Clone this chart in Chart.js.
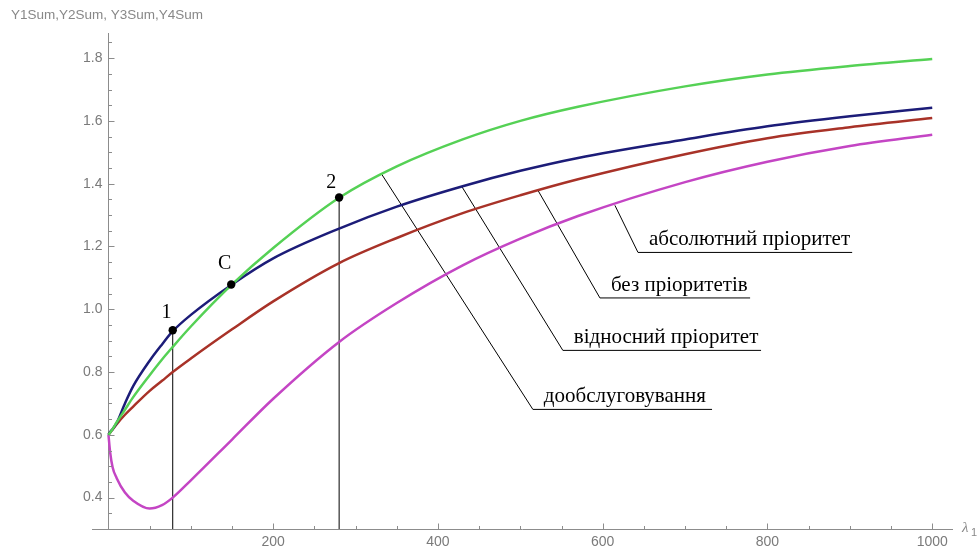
<!DOCTYPE html>
<html lang="uk">
<head>
<meta charset="UTF-8">
<title>Y1Sum, Y2Sum, Y3Sum, Y4Sum</title>
<script src="https://cdn.jsdelivr.net/npm/chart.js"></script>
<style>
  html, body { margin: 0; padding: 0; background: #fff; }
</style>
</head>
<body>
<canvas id="chart" width="978" height="547"></canvas>
<script>
// values
const lambda = [0, 2, 5, 10, 20, 30, 50, 65, 78, 100, 150, 200, 280, 350, 430, 500, 570, 700, 800, 900, 1000];
const absPriority  = [0.60, 0.545, 0.497, 0.462, 0.416, 0.39, 0.365, 0.376, 0.40, 0.455, 0.585, 0.715, 0.896, 1.02, 1.14, 1.225, 1.297, 1.405, 1.47, 1.52, 1.556];
const noPriority   = [0.60, 0.607, 0.617, 0.634, 0.664, 0.69, 0.74, 0.772, 0.80, 0.843, 0.936, 1.025, 1.147, 1.227, 1.306, 1.363, 1.414, 1.494, 1.545, 1.58, 1.609];
const relPriority  = [0.60, 0.609, 0.618, 0.638, 0.70, 0.755, 0.836, 0.888, 0.93, 0.982, 1.079, 1.162, 1.257, 1.327, 1.392, 1.441, 1.482, 1.541, 1.583, 1.615, 1.642];
const afterService = [0.60, 0.607, 0.618, 0.64, 0.68, 0.72, 0.79, 0.84, 0.88, 0.945, 1.079, 1.195, 1.355, 1.455, 1.541, 1.60, 1.645, 1.71, 1.748, 1.775, 1.797];

const seriesNames = ['абсолютний пріоритет', 'без пріоритетів', 'відносний пріоритет', 'дообслуговування'];

const markX = [78, 149, 280];
const markY = [0.933, 1.079, 1.356];
const markNames = ['1', 'C', '2'];
const markLabelX = [70.5, 141, 270.5];
const markLabelY = [0.988, 1.146, 1.404];

// leader lines: point on curve, bend, end of underline
const leaderX = [[614.8, 642.8, 902.8], [521.3, 596.6, 778.9], [428.9, 551.6, 792.2], [331.7, 515.2, 732.7]];
const leaderY = [[1.331, 1.181, 1.181], [1.379, 1.036, 1.036], [1.391, 0.869, 0.869], [1.43, 0.681, 0.681]];

const xTicks = [200, 400, 600, 800, 1000];
const yTicks = [0.4, 0.6, 0.8, 1.0, 1.2, 1.4, 1.6, 1.8];

const axisColor = '#8c8c8c';
const tickText = '#7a7a7a';
const sans = '"Liberation Sans", Arial, sans-serif';
const serif = '"Liberation Serif", "Times New Roman", serif';

function pts(xs, ys) {
  return xs.map((v, i) => ({x: v, y: ys[i]}));
}

function curve(values, color) {
  return {
    data: pts(lambda, values),
    showLine: true,
    borderColor: color,
    borderWidth: 2.5,
    pointRadius: 0,
    tension: 0.4,
    cubicInterpolationMode: 'monotone'
  };
}

function thin(data) {
  return {data, showLine: true, borderColor: '#000', borderWidth: 1, pointRadius: 0, tension: 0};
}

const datasets = [
  {data: pts(markX, markY), pointRadius: 4.2, pointBackgroundColor: '#000', pointBorderWidth: 0, showLine: false},
  curve(afterService, '#55d155'),
  curve(relPriority, '#1c1c78'),
  curve(noPriority, '#a83228'),
  curve(absPriority, '#c445c4'),
  thin([{x: markX[0], y: 0.3}, {x: markX[0], y: markY[0]}]),
  thin([{x: markX[2], y: 0.3}, {x: markX[2], y: markY[2]}])
];
leaderX.forEach((xs, i) => datasets.push(thin(pts(xs, leaderY[i]))));

// inward tick marks and y labels next to the axis at x = 0
const axisTicks = {
  id: 'axisTicks',
  afterDraw(chart) {
    const {ctx, scales: {x, y}} = chart;
    const x0 = Math.round(x.getPixelForValue(0)) + 0.5;
    const yb = Math.round(y.getPixelForValue(0.3)) + 0.5;
    ctx.save();
    ctx.strokeStyle = axisColor;
    ctx.lineWidth = 1;
    ctx.beginPath();
    for (let v = 50; v <= 1000; v += 50) {
      const px = Math.round(x.getPixelForValue(v)) + 0.5;
      const len = v % 200 === 0 ? 6 : 3.5;
      ctx.moveTo(px, yb);
      ctx.lineTo(px, yb - len);
    }
    for (let i = 7; i <= 37; i++) {
      const py = Math.round(y.getPixelForValue(i * 0.05)) + 0.5;
      const len = i % 4 === 0 ? 6 : 3.5;
      ctx.moveTo(x0, py);
      ctx.lineTo(x0 + len, py);
    }
    ctx.stroke();
    ctx.fillStyle = tickText;
    ctx.font = '14px ' + sans;
    ctx.textAlign = 'right';
    ctx.textBaseline = 'middle';
    yTicks.forEach(v => ctx.fillText(v.toFixed(1), x0 - 6, y.getPixelForValue(v)));
    ctx.restore();
  }
};

const labels = {
  id: 'labels',
  afterDraw(chart) {
    const {ctx, scales: {x, y}} = chart;
    ctx.save();
    ctx.fillStyle = '#000';
    ctx.font = '21px ' + serif;
    ctx.textAlign = 'left';
    ctx.textBaseline = 'alphabetic';
    leaderX.forEach((xs, i) => {
      ctx.fillText(seriesNames[i], x.getPixelForValue(xs[1]) + 11, y.getPixelForValue(leaderY[i][1]) - 7);
    });
    ctx.font = '20px ' + serif;
    ctx.textAlign = 'center';
    ctx.textBaseline = 'middle';
    markNames.forEach((t, i) => {
      ctx.fillText(t, x.getPixelForValue(markLabelX[i]), y.getPixelForValue(markLabelY[i]));
    });
    // axis captions
    ctx.fillStyle = '#888';
    ctx.textAlign = 'left';
    ctx.font = '13.5px ' + sans;
    ctx.fillText('Y1Sum,Y2Sum, Y3Sum,Y4Sum', 11, 15);
    ctx.font = 'italic 15px ' + serif;
    ctx.fillText('λ', 962, 528);
    ctx.font = '11px ' + sans;
    ctx.fillText('1', 971, 533);
    ctx.restore();
  }
};

new Chart(document.getElementById('chart'), {
  type: 'scatter',
  data: {datasets},
  options: {
    responsive: false,
    animation: false,
    layout: {padding: {left: 92, right: 26, top: 33, bottom: 0}},
    plugins: {legend: {display: false}, tooltip: {enabled: false}},
    scales: {
      x: {
        type: 'linear',
        min: -20,
        max: 1024,
        afterFit: s => { s.height = 18; },
        afterBuildTicks: s => { s.ticks = xTicks.map(v => ({value: v})); },
        grid: {display: false, drawTicks: false},
        border: {color: axisColor, width: 1},
        ticks: {color: tickText, padding: 5, font: {family: sans, size: 14}, callback: v => String(v)}
      },
      y: {
        type: 'linear',
        position: {x: 0},
        min: 0.3,
        max: 1.88,
        afterBuildTicks: s => { s.ticks = yTicks.map(v => ({value: v})); },
        grid: {display: false, drawTicks: false},
        border: {color: axisColor, width: 1},
        ticks: {display: false}
      }
    }
  },
  plugins: [axisTicks, labels]
});
</script>
</body>
</html>
